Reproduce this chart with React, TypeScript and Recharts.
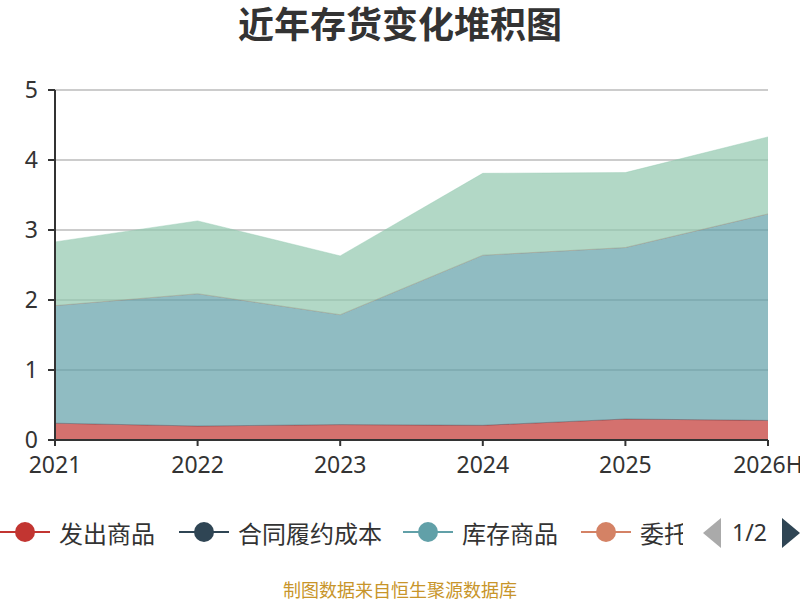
import React from "react"
import { AreaChart, Area, XAxis, YAxis, CartesianGrid } from "recharts"

const years = ["2021", "2022", "2023", "2024", "2025", "2026H"]
const seriesNames = ["发出商品", "合同履约成本", "库存商品", "委托加工物资", "原材料"]
const seriesColors = ["#c23531", "#2f4554", "#61a0a8", "#d48265", "#91c7ae"]

const shipped = [0.24, 0.2, 0.22, 0.21, 0.3, 0.28]
const contractCost = [0, 0, 0, 0, 0, 0]
const finishedGoods = [1.68, 1.89, 1.57, 2.43, 2.45, 2.95]
const consigned = [0, 0, 0, 0, 0, 0]
const rawMaterials = [0.91, 1.04, 0.84, 1.17, 1.07, 1.1]

const yTicks = [0, 1, 2, 3, 4, 5]

const seriesValues = [shipped, contractCost, finishedGoods, consigned, rawMaterials]

const data = years.map((year, i) => {
  const row: Record<string, string | number> = { year }
  seriesNames.forEach((name, s) => {
    row[name] = seriesValues[s][i]
  })
  return row
})

const font = "'Noto Sans', 'Noto Sans CJK SC', sans-serif"

function LegendRow() {
  // first legend page shows four items, last one clipped by the pager
  return (
    <div
      style={{
        position: "absolute",
        left: 0,
        top: 516,
        width: 800,
        height: 32,
        fontFamily: font,
        fontSize: 24,
        color: "#333",
      }}
    >
      <div style={{ position: "absolute", left: 0, top: 0, width: 683, height: 32, overflow: "hidden", whiteSpace: "nowrap" }}>
        {seriesNames.slice(0, 4).map((name, i) => {
          const lefts = [0, 179, 403, 581]
          return (
            <div key={name} style={{ position: "absolute", left: lefts[i], top: 0, height: 32, display: "flex", alignItems: "center" }}>
              <svg width={50} height={24} style={{ marginRight: 9 }}>
                <line x1={0} y1={12} x2={50} y2={12} stroke={seriesColors[i]} strokeWidth={2} />
                <circle cx={25} cy={12} r={10} fill={seriesColors[i]} />
              </svg>
              <span>{name}</span>
            </div>
          )
        })}
      </div>
      <svg width={18} height={30} style={{ position: "absolute", left: 703, top: 2 }}>
        <polygon points="18,0 18,30 0,15" fill="#aaa" />
      </svg>
      <span style={{ position: "absolute", left: 732, top: 0, lineHeight: "32px", fontSize: 23 }}>1/2</span>
      <svg width={18} height={30} style={{ position: "absolute", left: 782, top: 2 }}>
        <polygon points="0,0 0,30 18,15" fill="#2f4554" />
      </svg>
    </div>
  )
}

export default function App() {
  return (
    <div style={{ position: "absolute", left: 0, top: 0, width: 800, height: 600, background: "#fff", overflow: "hidden" }}>
      <div
        style={{
          position: "absolute",
          top: 3,
          width: 800,
          textAlign: "center",
          fontFamily: font,
          fontWeight: "bold",
          fontSize: 36,
          lineHeight: "44px",
          color: "#333",
        }}
      >
        近年存货变化堆积图
      </div>
      <div
        style={{
          position: "absolute",
          left: -14,
          top: 115,
          transform: "translate(-50%, -50%) rotate(-90deg)",
          fontFamily: font,
          fontSize: 18,
          color: "#ff3333",
          whiteSpace: "nowrap",
        }}
      >
        单位：亿元
      </div>
      <AreaChart width={800} height={490} data={data} margin={{ top: 90, right: 32, left: 0, bottom: 0 }} style={{ position: "absolute", left: 0, top: 0 }}>
        <CartesianGrid vertical={false} stroke="#ccc" strokeWidth={2} />
        <XAxis
          dataKey="year"
          height={50}
          axisLine={{ stroke: "#333", strokeWidth: 2 }}
          tickLine={{ stroke: "#333", strokeWidth: 2 }}
          tickSize={6}
          tickMargin={11}
          interval={0}
          tick={{ fill: "#333", fontSize: 23, fontFamily: font }}
        />
        <YAxis
          width={55}
          domain={[0, 5]}
          ticks={yTicks}
          axisLine={{ stroke: "#333", strokeWidth: 2 }}
          tickLine={{ stroke: "#333", strokeWidth: 2 }}
          tickSize={7}
          tickMargin={10}
          tick={{ fill: "#333", fontSize: 23, fontFamily: font }}
        />
        {seriesNames.map((name, i) => (
          <Area
            key={name}
            type="linear"
            dataKey={name}
            stackId="inv"
            stroke={seriesColors[i]}
            strokeOpacity={0.4}
            strokeWidth={1}
            fill={seriesColors[i]}
            fillOpacity={0.7}
            isAnimationActive={false}
          />
        ))}
      </AreaChart>
      <LegendRow />
      <div
        style={{
          position: "absolute",
          top: 578,
          width: 800,
          textAlign: "center",
          fontFamily: font,
          fontSize: 18,
          lineHeight: "24px",
          color: "#c8952a",
        }}
      >
        制图数据来自恒生聚源数据库
      </div>
    </div>
  )
}
